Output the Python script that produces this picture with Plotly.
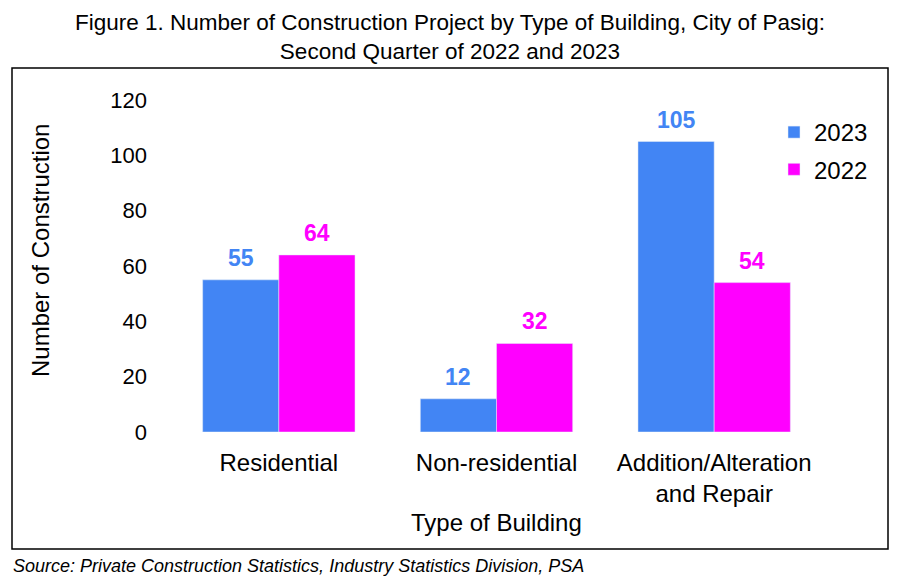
import plotly.graph_objects as go

categories = ["Residential", "Non-residential", "Addition/Alteration<br>and Repair"]
values_2023 = [55, 12, 105]
values_2022 = [64, 32, 54]
series_names = ["2023", "2022"]
y_ticks = [0, 20, 40, 60, 80, 100, 120]

BLUE = "#4285F4"
MAGENTA = "#FF00FF"
FONT = "Liberation Sans, Arial, sans-serif"

W, H = 900, 586
OFF = 8  # page body margin
# plot area in screen pixels
PX0, PX1, PY0, PY1 = 170, 823, 100, 432
L, T = PX0 - OFF, PY0 - OFF
R, B = W - L - (PX1 - PX0), H - T - (PY1 - PY0)
pw, ph = PX1 - PX0, PY1 - PY0

def px_x(p):
    return (p - PX0) / pw

def px_y(p):
    return (PY1 - p) / ph

fig = go.Figure()
for name, vals, col, grp in [(series_names[0], values_2023, BLUE, "a"),
                             (series_names[1], values_2022, MAGENTA, "b")]:
    fig.add_trace(go.Bar(x=categories, y=vals, name=name, marker_color=col,
                         legendgroup=grp))

bargap = 0.3
cat_w = pw / len(categories)
half = cat_w * (1 - bargap) / 4
for vals, col, shift in [(values_2023, BLUE, -half), (values_2022, MAGENTA, half)]:
    for c, v in zip(categories, vals):
        fig.add_annotation(
            x=c, y=v, xref="x", yref="y", text=f"<b>{v}</b>", showarrow=False,
            xshift=shift, yshift=7, yanchor="bottom",
            font=dict(color=col, size=23, family=FONT),
        )

fig.update_layout(
    width=W, height=H,
    margin=dict(l=L, r=R, t=T, b=B),
    paper_bgcolor="white", plot_bgcolor="white",
    font=dict(family=FONT, size=24, color="black"),
    barmode="group", bargap=bargap, bargroupgap=0,
    title=dict(
        text="Figure 1. Number of Construction Project by Type of Building, City of Pasig:<br>Second Quarter of 2022 and 2023",
        x=(450 - OFF) / W, xref="container", xanchor="center",
        y=1 - (30 - OFF) / H, yref="container", yanchor="middle",
        font=dict(size=22.5, family=FONT, color="black"),
    ),
    legend=dict(
        x=px_x(774), y=px_y(110), xanchor="left", yanchor="top",
        font=dict(size=24), tracegroupgap=3, bgcolor="rgba(0,0,0,0)",
    ),
    showlegend=True,
)
fig.update_yaxes(
    range=[0, 120], tickvals=y_ticks, showgrid=False, zeroline=False,
    showline=False, ticks="", ticklabelstandoff=22, tickfont=dict(size=22),
)
fig.update_xaxes(
    showgrid=False, showline=False, ticks="", ticklabelstandoff=14,
    tickfont=dict(size=24),
)

fig.add_annotation(
    text="Number of Construction", textangle=-90, showarrow=False,
    xref="paper", yref="paper", x=px_x(40), y=px_y(251),
    xanchor="center", yanchor="middle", font=dict(size=24),
)
fig.add_annotation(
    text="Type of Building", showarrow=False,
    xref="paper", yref="paper", x=px_x(497), y=px_y(522),
    xanchor="center", yanchor="middle", font=dict(size=24),
)
fig.add_annotation(
    text="<i>Source: Private Construction Statistics, Industry Statistics Division, PSA</i>",
    showarrow=False, xref="paper", yref="paper", x=px_x(11), y=px_y(566),
    xanchor="left", yanchor="middle", font=dict(size=18),
)
fig.add_shape(
    type="rect", xref="paper", yref="paper",
    x0=px_x(12), x1=px_x(888), y0=px_y(549), y1=px_y(68),
    line=dict(color="black", width=1.5), fillcolor="rgba(0,0,0,0)", layer="below",
)

fig.write_html("out.html")
